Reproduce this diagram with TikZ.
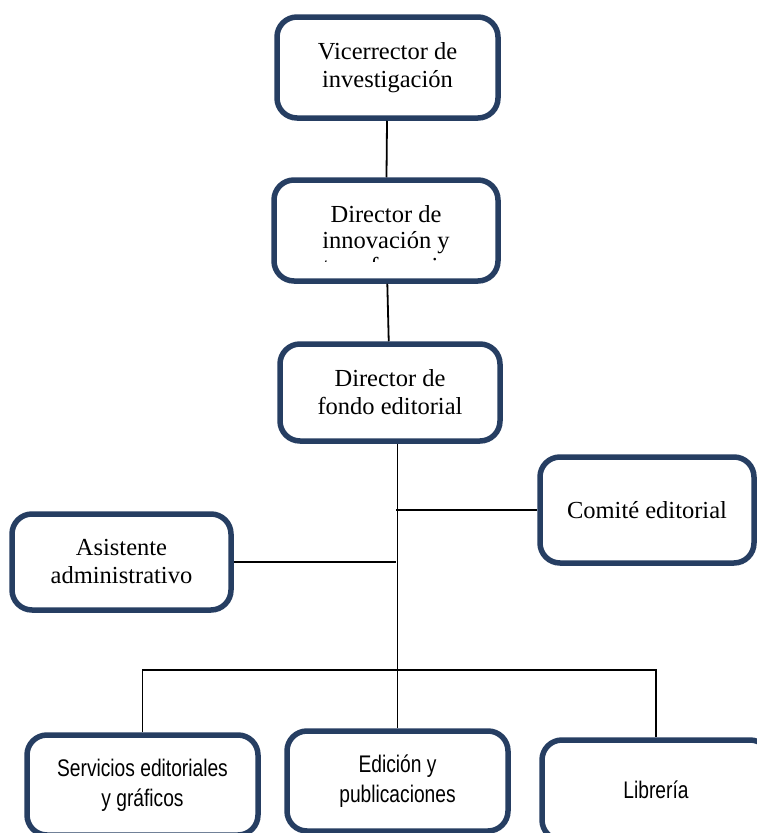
\documentclass[tikz,border=0pt]{standalone}
\usepackage{fontspec}
\setmainfont{Liberation Serif}
\newfontfamily\boxsans[FakeStretch=0.8]{Liberation Sans}
\definecolor{boxblue}{RGB}{38,62,98}
\tikzset{
  orgbox/.style={draw=boxblue, line width=5.5pt, rounded corners=20pt, fill=white,
    align=center, inner sep=0pt, font=\fontsize{24.5}{28}\selectfont},
  lowbox/.style={orgbox, font=\boxsans\fontsize{24}{30}\selectfont},
  link/.style={line width=1.8pt}
}
\begin{document}
\begin{tikzpicture}[x=1pt,y=-1pt]
  \useasboundingbox (0,0) rectangle (757,833);
  \clip (0,0) rectangle (757,833);
  \draw
    (387.5,67.5) node[orgbox, minimum width=221, minimum height=101] (vice){Vicerrector de\\investigación}
    (386,230.5) node[orgbox, minimum width=224, minimum height=101] (dirinn){}
    (390,392.5) node[orgbox, minimum width=220, minimum height=97] (dirfondo){Director de\\fondo editorial}
    (647,510) node[orgbox, minimum width=214, minimum height=106] (comite){Comité editorial}
    (121.5,562) node[orgbox, minimum width=219, minimum height=96] (asist){Asistente\\administrativo}
    (142.5,785) node[lowbox, minimum width=231, minimum height=100] (servicios){Servicios editoriales\\y gráficos}
    (397.5,781) node[lowbox, minimum width=221, minimum height=100] (edicion){Edición y\\publicaciones}
    (656,790) node[lowbox, minimum width=228, minimum height=100] (libreria){Librería};
  % text of the second box, cut off at the bottom
  \begin{scope}
    \clip (276,183) rectangle (496,261);
    \node[align=center, font=\fontsize{24.5}{26}\selectfont] (dirinntext) at (386,240) {Director de\\innovación y\\transferencia};
  \end{scope}
  \coordinate (comitej) at (396,510);
  \coordinate (bus) at (396,670);
  \begin{scope}[link]
    \draw (vice) to (dirinn);
    \draw (dirinn) to (dirfondo);
    \draw (dirfondo.south -| edicion.north) to (edicion.north);
    \draw (comitej) to (comite.west);
    \draw (asist.east) to (asist.east -| bus);
    \draw (servicios.north) -- (servicios.north |- bus) -- (libreria.north |- bus) -- (libreria.north);
  \end{scope}
\end{tikzpicture}
\end{document}
